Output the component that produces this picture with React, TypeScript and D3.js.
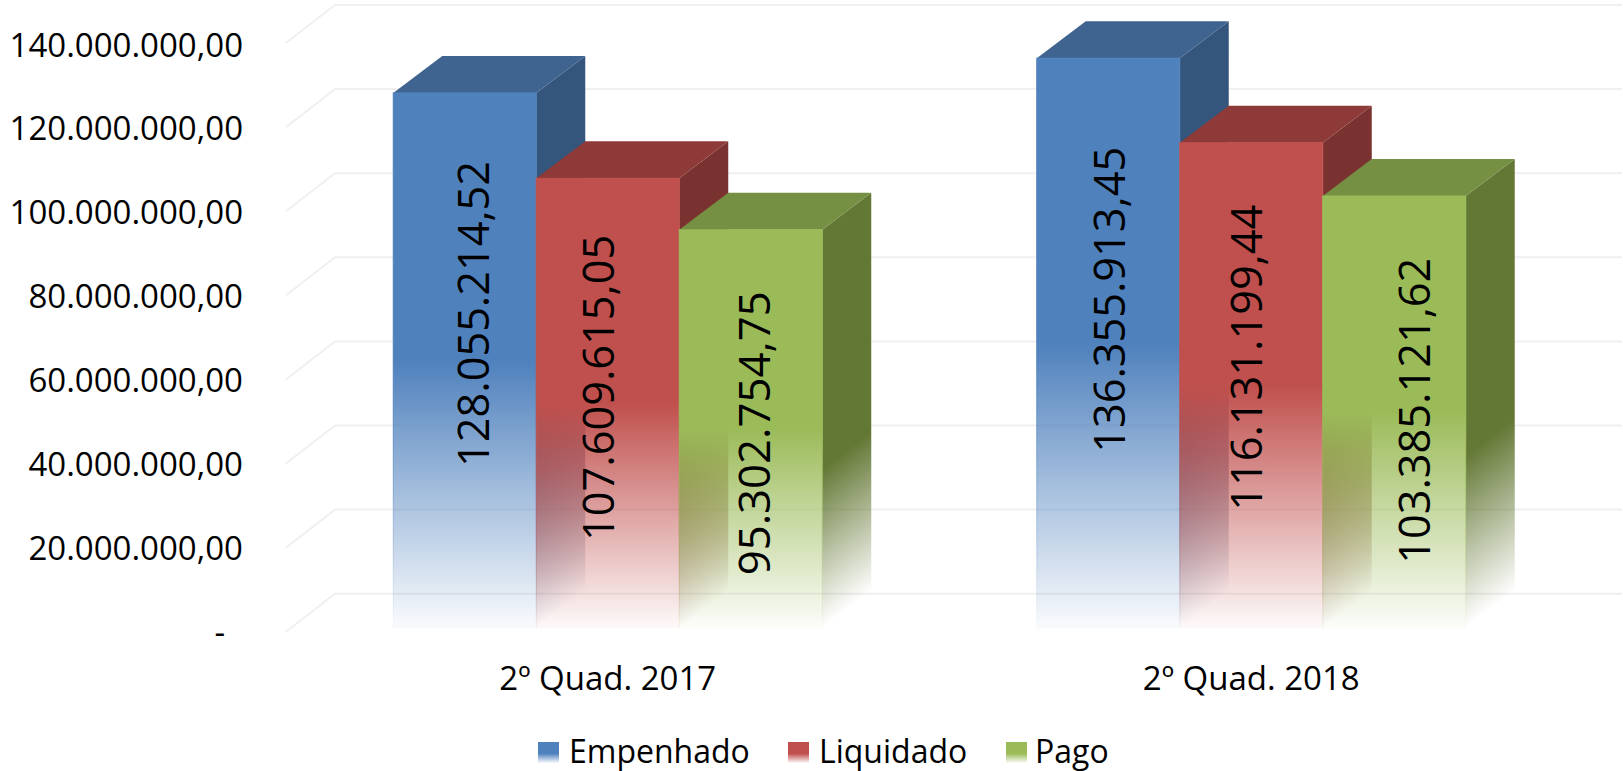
import React, { useRef, useEffect } from "react";
import * as d3 from "d3";

const categories = ["2º Quad. 2017", "2º Quad. 2018"];
const seriesNames = ["Empenhado", "Liquidado", "Pago"];
const empenhado = [128055214.52, 136355913.45];
const liquidado = [107609615.05, 116131199.44];
const pago = [95302754.75, 103385121.62];
const seriesValues = [empenhado, liquidado, pago];
const yTicks = [0, 20000000, 40000000, 60000000, 80000000, 100000000, 120000000, 140000000];

const frontColors = ["#4f81bd", "#c0504d", "#9bbb59"];
const topColors = ["#3f648f", "#8e3a38", "#758f43"];
const sideColors = ["#34557c", "#7a3230", "#647835"];

// labels are not centred on the bars in the original, nudges per [category][series]
const labelShiftX = [
	[8, -10, 3],
	[1, -5, 20],
];
const labelFrac = [
	[0.413, 0.466, 0.511],
	[0.424, 0.443, 0.497],
];

const width = 1623;
const height = 771;
const depthX = 49;
const depthY = 37;
const fontFamily = "'Open Sans', sans-serif";

const ptBR = d3.formatLocale({
	decimal: ",",
	thousands: ".",
	grouping: [3],
	currency: ["R$", ""],
});
const money = ptBR.format(",.2f");

const App = () => {
	const ref = useRef<SVGSVGElement>(null);

	useEffect(() => {
		const svg = d3.select(ref.current);
		svg.selectAll("*").remove();

		const x0 = d3
			.scaleBand()
			.domain(categories)
			.range([286, 1573])
			.paddingInner(1 / 3)
			.paddingOuter(1 / 6);
		const x1 = d3
			.scaleBand()
			.domain(seriesNames)
			.range([0, x0.bandwidth()]);
		// wall, bars and tick labels do not sit on exactly the same plane
		const yGrid = d3.scaleLinear().domain([0, 140000000]).range([631.7, 43]);
		const yBar = d3.scaleLinear().domain([0, 140000000]).range([628, 43]);
		const yLabel = d3.scaleLinear().domain([0, 140000000]).range([643, 56]);

		// gradients
		const defs = svg.append("defs");
		const addFade = (id, color, start) => {
			const g = defs
				.append("linearGradient")
				.attr("id", id)
				.attr("x1", 0)
				.attr("y1", 0)
				.attr("x2", 0)
				.attr("y2", 1);
			g.append("stop").attr("offset", start).attr("stop-color", color);
			g.append("stop")
				.attr("offset", 1)
				.attr("stop-color", color)
				.attr("stop-opacity", 0.03);
		};
		seriesNames.forEach((s, i) => {
			addFade(`front${i}`, frontColors[i], 0.5);
			addFade(`legend${i}`, frontColors[i], 0.55);
		});

		// side faces fade out towards their slanted bottom edge
		const addSideFade = (id, color, right, base, fadeLength) => {
			const len = Math.hypot(depthX, depthY);
			const nx = depthY / len;
			const ny = depthX / len;
			const d = fadeLength * ny;
			defs
				.append("linearGradient")
				.attr("id", id)
				.attr("gradientUnits", "userSpaceOnUse")
				.attr("x1", right)
				.attr("y1", base - fadeLength)
				.attr("x2", right + nx * d)
				.attr("y2", base - fadeLength + ny * d)
				.call((g) => {
					g.append("stop").attr("offset", 0).attr("stop-color", color);
					g.append("stop")
						.attr("offset", 1)
						.attr("stop-color", color)
						.attr("stop-opacity", 0);
				});
		};

		// grid on the floor and the back wall
		svg
			.append("g")
			.selectAll("path")
			.data(yTicks)
			.enter()
			.append("path")
			.attr("fill", "none")
			.attr("stroke", "#f0f0f0")
			.attr("stroke-width", 2)
			.attr("d", (d) => {
				const y = yGrid(d);
				return `M${x0.range()[0]},${y}L${x0.range()[0] + depthX},${y - 38}H${x0.range()[1] + depthX}`;
			});

		// y axis
		const yAxis = d3
			.axisLeft(yLabel)
			.tickValues(yTicks)
			.tickSize(0)
			.tickPadding(0)
			.tickFormat((d) => (+d === 0 ? "-" : money(+d)));
		const yG = svg
			.append("g")
			.attr("transform", "translate(243,0)")
			.call(yAxis);
		yG.select(".domain").remove();
		yG.selectAll("text")
			.attr("font-family", fontFamily)
			.attr("font-size", 33)
			.attr("fill", "#000")
			.attr("dx", (d) => (+d === 0 ? -18 : 0))
			.attr("dy", 0);

		// x axis
		const xAxis = d3.axisBottom(x0).tickSize(0).tickPadding(0);
		const xG = svg
			.append("g")
			.attr("transform", "translate(0,667)")
			.call(xAxis);
		xG.select(".domain").remove();
		xG.selectAll("text")
			.attr("font-family", fontFamily)
			.attr("font-size", 33)
			.attr("fill", "#000");

		// bars, left to right so each one covers the side of the previous
		categories.forEach((cat, c) => {
			const group = svg.append("g");
			seriesNames.forEach((s, i) => {
				const left = x0(cat) + x1(s);
				const right = left + x1.bandwidth();
				const v = seriesValues[i][c];
				const top = yBar(v);
				const base = yBar(0);

				addSideFade(`side${c}${i}`, sideColors[i], right, base, (base - top) * 0.4);
				group
					.append("path")
					.attr("fill", `url(#side${c}${i})`)
					.attr(
						"d",
						`M${right},${top}L${right + depthX},${top - depthY}V${base - depthY}L${right},${base}Z`
					);
				group
					.append("path")
					.attr("fill", topColors[i])
					.attr(
						"d",
						`M${left},${top}L${left + depthX},${top - depthY}H${right + depthX}L${right},${top}Z`
					);
				group
					.append("rect")
					.attr("x", left)
					.attr("y", top)
					.attr("width", x1.bandwidth())
					.attr("height", base - top)
					.attr("fill", `url(#front${i})`)
					.attr("stroke", `url(#front${i})`)
					.attr("stroke-width", 1);
			});
			// labels go on after all three bars
			seriesNames.forEach((s, i) => {
				const v = seriesValues[i][c];
				const cx = x0(cat) + x1(s) + x1.bandwidth() / 2 + labelShiftX[c][i];
				const cy = yBar(v) + (yBar(0) - yBar(v)) * labelFrac[c][i];
				const text = money(v);
				group
					.append("text")
					.attr("transform", `translate(${cx},${cy}) rotate(-90)`)
					.attr("text-anchor", "middle")
					.attr("dy", "0.36em")
					.attr("font-family", fontFamily)
					.attr("font-size", 44)
					.attr("textLength", (306 * text.length) / 14)
					.attr("lengthAdjust", "spacingAndGlyphs")
					.attr("fill", "#000")
					.text(text);
			});
		});

		// legend
		const legendX = [538, 788, 1006];
		const legend = svg
			.append("g")
			.selectAll("g")
			.data(seriesNames)
			.enter()
			.append("g")
			.attr("transform", (d, i) => `translate(${legendX[i]},742)`);
		legend
			.append("rect")
			.attr("width", 21)
			.attr("height", 21)
			.attr("fill", (d, i) => `url(#legend${i})`);
		legend
			.append("text")
			.attr("x", (d, i) => (i === 2 ? 29 : 31))
			.attr("y", 21)
			.attr("font-family", fontFamily)
			.attr("font-size", 32)
			.attr("fill", "#000")
			.text((d) => d);
	}, []);

	return (
		<svg
			ref={ref}
			width={width}
			height={height}
			style={{ position: "absolute", left: 0, top: 0, background: "#fff" }}
		/>
	);
};

export default App;
